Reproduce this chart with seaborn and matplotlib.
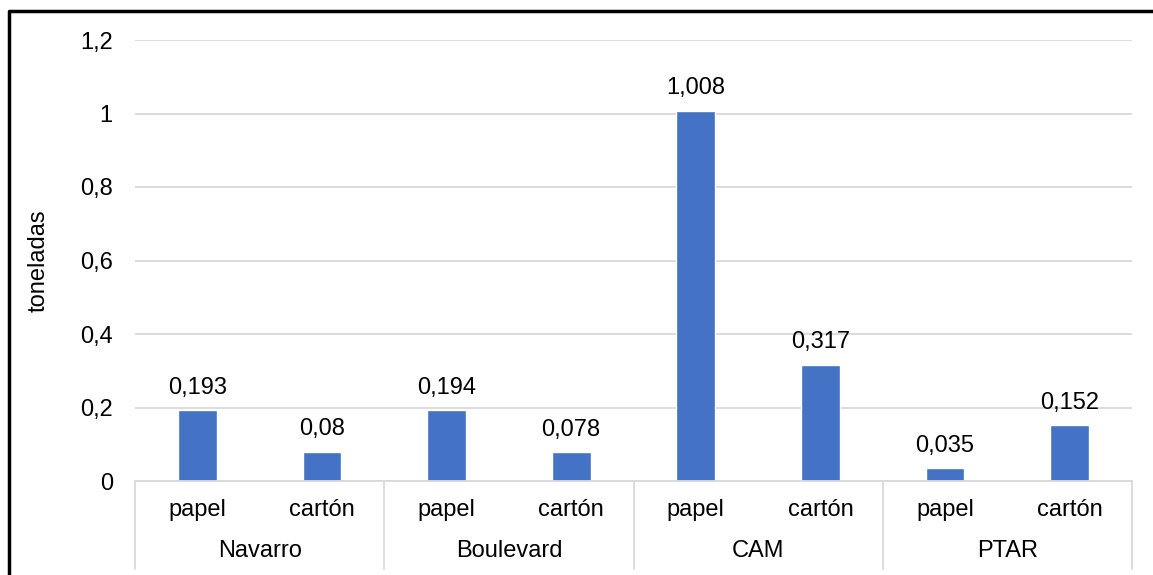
import matplotlib
matplotlib.use("Agg")
import matplotlib.pyplot as plt
from matplotlib.lines import Line2D
import seaborn as sns
import pandas as pd

groups = ["Navarro", "Boulevard", "CAM", "PTAR"]
materials = ["papel", "cartón"]
values = [0.193, 0.08, 0.194, 0.078, 1.008, 0.317, 0.035, 0.152]
value_labels = ["0,193", "0,08", "0,194", "0,078", "1,008", "0,317", "0,035", "0,152"]
yticks = [0, 0.2, 0.4, 0.6, 0.8, 1.0, 1.2]
ytick_labels = ["0", "0,2", "0,4", "0,6", "0,8", "1", "1,2"]

sns.set_theme(style="white")
plt.rcParams["font.family"] = ["Liberation Sans", "DejaVu Sans"]
plt.rcParams["text.color"] = "black"
plt.rcParams["ytick.color"] = "black"
plt.rcParams["axes.labelcolor"] = "black"

FS = 17

rows = []
for i, g in enumerate(groups):
    for j, m in enumerate(materials):
        rows.append({"pos": f"{g}-{m}", "grupo": g, "material": m,
                     "valor": values[i * len(materials) + j]})
df = pd.DataFrame(rows)

fig = plt.figure(figsize=(11.53, 5.75), dpi=100)
ax = fig.add_axes([135 / 1153, 1 - 481 / 575, (1132 - 135) / 1153, (481 - 40) / 575])

sns.barplot(data=df, x="pos", y="valor", order=list(df["pos"]), color="#4472C4",
            width=0.31, saturation=1, ax=ax)

ax.set_ylim(0, 1.2)
ax.set_xlim(-0.5, len(df) - 0.5)
ax.set_yticks(yticks)
ax.set_yticklabels(ytick_labels, fontsize=FS)
ax.tick_params(axis="y", length=0, pad=16)
ax.set_xticks([])
ax.set_xlabel("")
ax.set_ylabel("toneladas", fontsize=FS, labelpad=22)
ax.grid(axis="y", color="#D9D9D9", linewidth=1.3)
ax.set_axisbelow(True)
for s in ["top", "right", "left"]:
    ax.spines[s].set_visible(False)
ax.spines["bottom"].set_color("#D9D9D9")
ax.spines["bottom"].set_linewidth(1.3)

# etiquetas de valor
for k, (v, lab) in enumerate(zip(df["valor"], value_labels)):
    ax.annotate(lab, (k, v), xytext=(0, 8), textcoords="offset points",
                ha="center", va="bottom", fontsize=FS)

# eje de categorias en dos niveles
trans = ax.get_xaxis_transform()
for k, m in enumerate(df["material"]):
    ax.text(k, -0.066, m, transform=trans, ha="center", va="center", fontsize=FS)
n = len(materials)
for i, g in enumerate(groups):
    ax.text(i * n + (n - 1) / 2, -0.159, g, transform=trans, ha="center",
            va="center", fontsize=FS)
for i in range(len(groups) + 1):
    ax.add_line(Line2D([i * n - 0.5, i * n - 0.5], [0, -0.2], transform=trans,
                       color="#D9D9D9", linewidth=1.3, clip_on=False))

# borde negro
fig.add_artist(Line2D([9 / 1153, 9 / 1153, 1.0], [0, 1 - 11 / 575, 1 - 11 / 575],
                      transform=fig.transFigure, color="black", linewidth=2.5))

fig.savefig("out.png", dpi=100)
